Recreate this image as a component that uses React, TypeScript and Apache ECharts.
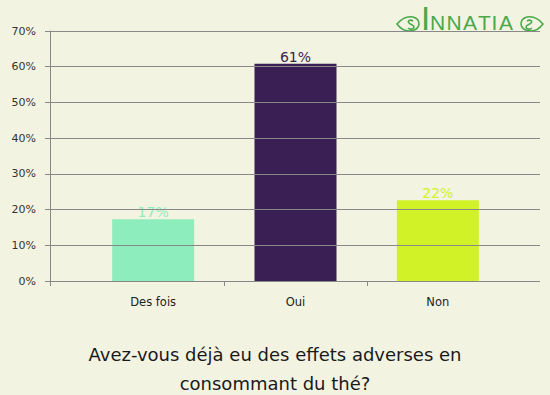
import React, { useEffect, useRef } from "react";
import * as echarts from "echarts";

const categories = ["Des fois", "Oui", "Non"];
const values = [17.3, 60.8, 22.6];
const valueLabels = ["17%", "61%", "22%"];
const barColors = ["#8eedbc", "#3a1f55", "#d0f227"];
const yTicks = [0, 10, 20, 30, 40, 50, 60, 70];
const titleText = "Avez-vous déjà eu des effets adverses en\nconsommant du thé?";
const logoLetters = ["N", "N", "A", "T", "I", "A"];
const logoLetterX = [430, 446.5, 463, 478, 491.5, 499];

const FONT = "DejaVu Sans";
const GRID_C = "#888888";
const LOGO_C = "#4aa84a";

const LEAF_D =
  "M0,8 C5,2 11,0 16,1 C20,2 22,5 22,8 C22,12 18,15 12,15 C7,15 3,12 0,8 Z " +
  "M16,5 C13,3 10,5 12,7 C14,9 17,9 17,11 C17,13 13,14 11,12";

let registered = false;
function ensureShapes() {
  if (registered) return;
  echarts.graphic.registerShape("logoLeaf", echarts.graphic.extendPath(LEAF_D, {}) as any);
  registered = true;
}

export default function App() {
  const ref = useRef<HTMLDivElement>(null);
  useEffect(() => {
    if (!ref.current) return;
    ensureShapes();
    const chart = echarts.init(ref.current, null, { renderer: "svg" });
    const yMax = yTicks[yTicks.length - 1];
    chart.setOption({
      animation: false,
      backgroundColor: "#f3f3e2",
      title: {
        text: titleText,
        left: "center",
        top: 335,
        textStyle: {
          fontFamily: FONT,
          fontSize: 18,
          fontWeight: "normal",
          color: "#1a1a1a",
          lineHeight: 29,
        },
      },
      graphic: [
        {
          type: "group",
          z: 0,
          children: [
            {
              type: "logoLeaf",
              x: 397,
              y: 16,
              style: { fill: "none", stroke: LOGO_C, lineWidth: 1.6 },
            },
            {
              type: "logoLeaf",
              x: 543,
              y: 16,
              scaleX: -1,
              style: { fill: "none", stroke: LOGO_C, lineWidth: 1.6 },
            },
            {
              type: "text",
              x: 421,
              y: 18,
              style: {
                text: "I",
                fontFamily: "Liberation Sans",
                fontSize: 33,
                fill: LOGO_C,
                verticalAlign: "middle",
              },
            },
            ...logoLetters.map((ch, i) => ({
              type: "text",
              x: logoLetterX[i],
              y: 22.5,
              style: {
                text: ch,
                fontFamily: "Liberation Sans",
                fontSize: 21,
                fill: LOGO_C,
                verticalAlign: "middle",
              },
            })),
          ],
        },
      ],
      grid: [
        { left: 50, right: 10, top: 31, bottom: 114 },
        { left: 82, right: 41, top: 31, bottom: 114 },
        { left: 50, right: 326, top: 31, bottom: 114 },
        { left: 224, right: 183, top: 31, bottom: 114 },
      ],
      xAxis: [
        { gridIndex: 0, type: "value", show: false, min: 0, max: 1 },
        {
          gridIndex: 1,
          type: "category",
          data: categories,
          axisLine: { show: false },
          axisTick: { show: false },
          axisLabel: { fontFamily: FONT, fontSize: 11.5, color: "#222", margin: 15 },
        },
        {
          gridIndex: 2,
          type: "value",
          min: 0,
          max: 1,
          interval: 1,
          axisLine: { show: false },
          axisTick: { show: true, length: 5, lineStyle: { color: GRID_C } },
          axisLabel: { show: false },
          splitLine: { show: false },
        },
        {
          gridIndex: 3,
          type: "value",
          min: 0,
          max: 1,
          interval: 1,
          axisLine: { show: false },
          axisTick: { show: true, length: 5, lineStyle: { color: GRID_C } },
          axisLabel: { show: false },
          splitLine: { show: false },
        },
      ],
      yAxis: [
        {
          gridIndex: 0,
          type: "value",
          min: 0,
          max: yMax,
          interval: 10,
          z: 5,
          axisLine: { show: true, lineStyle: { color: GRID_C } },
          axisTick: { show: true, length: 5, lineStyle: { color: GRID_C } },
          axisLabel: { fontFamily: FONT, fontSize: 11, color: "#333", margin: 14, formatter: "{value}%" },
          splitLine: { show: true, lineStyle: { color: GRID_C, width: 1 } },
        },
        { gridIndex: 1, type: "value", min: 0, max: yMax, show: false },
        { gridIndex: 2, type: "value", min: 0, max: yMax, show: false },
        { gridIndex: 3, type: "value", min: 0, max: yMax, show: false },
      ],
      series: [
        {
          type: "bar",
          xAxisIndex: 1,
          yAxisIndex: 1,
          z: 3,
          barWidth: 82,
          data: values.map((v, i) => ({
            value: v,
            itemStyle: { color: barColors[i] },
            label: { color: barColors[i] },
          })),
          label: {
            show: true,
            position: "top",
            distance: 0,
            fontFamily: FONT,
            fontSize: 14,
            formatter: (p: any) => valueLabels[p.dataIndex],
          },
        },
      ],
    });
    return () => chart.dispose();
  }, []);
  return <div ref={ref} style={{ width: 550, height: 395, position: "absolute", left: 0, top: 0 }} />;
}
